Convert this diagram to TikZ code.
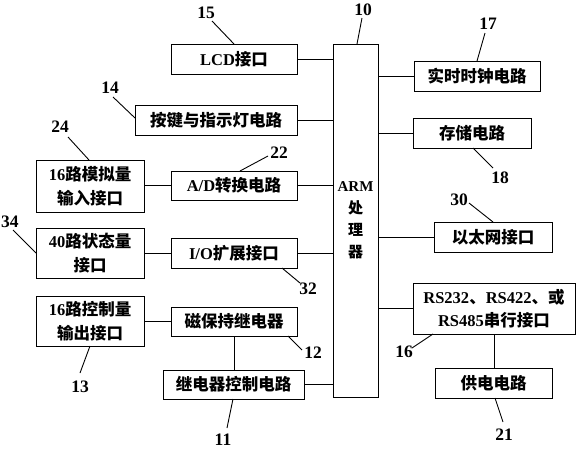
\documentclass[tikz,border=0pt]{standalone}
\usepackage{fontspec}
\setmainfont{Liberation Serif}
\newfontfamily\cjk{Noto Sans CJK SC}
\newcommand{\C}[1]{{\cjk #1}}
\begin{document}
\begin{tikzpicture}[x=1pt,y=-1pt,
  box/.style={draw,line width=0.9pt,inner sep=0pt,align=center,
    font=\bfseries\fontsize{16.5}{23.5}\selectfont},
  num/.style={inner sep=0pt,font=\bfseries\fontsize{17.5}{20}\selectfont},
  wire/.style={line width=0.9pt},
  lead/.style={line width=0.9pt}]
\useasboundingbox (0,0) rectangle (579,450);
% boxes
\node[box,minimum width=126,minimum height=30] (lcd) at (234,59) {LCD\C{接口}};
\node[box,minimum width=162,minimum height=30] (key) at (216,120) {\C{按键与指示灯电路}};
\node[box,minimum width=108,minimum height=52] (ana) at (90,186) {16\C{路模拟量}\\\C{输入接口}};
\node[box,minimum width=126,minimum height=29] (ad) at (234,185.5) {A/D\C{转换电路}};
\node[box,minimum width=108,minimum height=50] (sta) at (90,253) {40\C{路状态量}\\\C{接口}};
\node[box,minimum width=126,minimum height=30] (io) at (234,253) {I/O\C{扩展接口}};
\node[box,minimum width=108,minimum height=50] (ctl) at (90,321) {16\C{路控制量}\\\C{输出接口}};
\node[box,minimum width=126,minimum height=29] (mag) at (234,321.5) {\C{磁保持继电器}};
\node[box,minimum width=141,minimum height=29] (rel) at (233.5,384.5) {\C{继电器控制电路}};
\node[box,minimum width=45,minimum height=353,font=\bfseries\fontsize{15}{22}\selectfont] (arm) at (355.5,220.5) {ARM\\\C{处}\\\C{理}\\\C{器}};
\node[box,minimum width=126,minimum height=30] (rtc) at (477,76) {\C{实时时钟电路}};
\node[box,minimum width=118,minimum height=30] (mem) at (472,133) {\C{存储电路}};
\node[box,minimum width=118,minimum height=30] (eth) at (493,237) {\C{以太网接口}};
\node[box,minimum width=162,minimum height=51] (rs) at (494,308.5) {RS232\C{、}RS422\C{、或}\\RS485\C{串行接口}};
\node[box,minimum width=117,minimum height=30] (pwr) at (493.5,383) {\C{供电电路}};
% wires
\draw[wire] (lcd.east) -- (lcd.east -| arm.west);
\draw[wire] (key.east) -- (key.east -| arm.west);
\draw[wire] (ad.east) -- (ad.east -| arm.west);
\draw[wire] (io.east) -- (io.east -| arm.west);
\draw[wire] (rel.east) -- (rel.east -| arm.west);
\draw[wire] (ana.east |- ad.west) -- (ad.west);
\draw[wire] (sta.east) -- (io.west);
\draw[wire] (ctl.east) -- (ctl.east -| mag.west);
\draw[wire] (mag.south) -- (mag.south |- rel.north);
\draw[wire] (rtc.west -| arm.east) -- (rtc.west);
\draw[wire] (mem.west -| arm.east) -- (mem.west);
\draw[wire] (eth.west -| arm.east) -- (eth.west);
\draw[wire] (rs.west -| arm.east) -- (rs.west);
\draw[wire] (rs.south) -- (rs.south |- pwr.north);
% labels
\node[num] (n15) at (206,13) {15};
\draw[lead] (212,21) -- (234,44);
\node[num] (n14) at (110,88) {14};
\draw[lead] (113,97) -- (135,118);
\node[num] (n24) at (60,127) {24};
\draw[lead] (68,137) -- (89,160);
\node[num] (n22) at (279,153) {22};
\draw[lead] (268,156) -- (240,171);
\node[num] (n34) at (10,222) {34};
\draw[lead] (13,230) -- (36,253);
\node[num] (n32) at (308,289) {32};
\draw[lead] (282,268) -- (300,283);
\node[num] (n13) at (80,387) {13};
\draw[lead] (90,346) -- (80,373);
\node[num] (n12) at (313,353) {12};
\draw[lead] (288,336) -- (302,350);
\node[num] (n11) at (223,440) {11};
\draw[lead] (233,399) -- (227,428);
\node[num] (n10) at (363,10) {10};
\draw[lead] (362,18) -- (357,44);
\node[num] (n17) at (488,24) {17};
\draw[lead] (485,33) -- (477,61);
\node[num] (n18) at (500,178) {18};
\draw[lead] (473,148) -- (493,168);
\node[num] (n30) at (459,200) {30};
\draw[lead] (469,203) -- (493,222);
\node[num] (n16) at (404,352) {16};
\draw[lead] (412,348) -- (433,334);
\node[num] (n21) at (504,435) {21};
\draw[lead] (495,398) -- (503,422);
\end{tikzpicture}
\end{document}
